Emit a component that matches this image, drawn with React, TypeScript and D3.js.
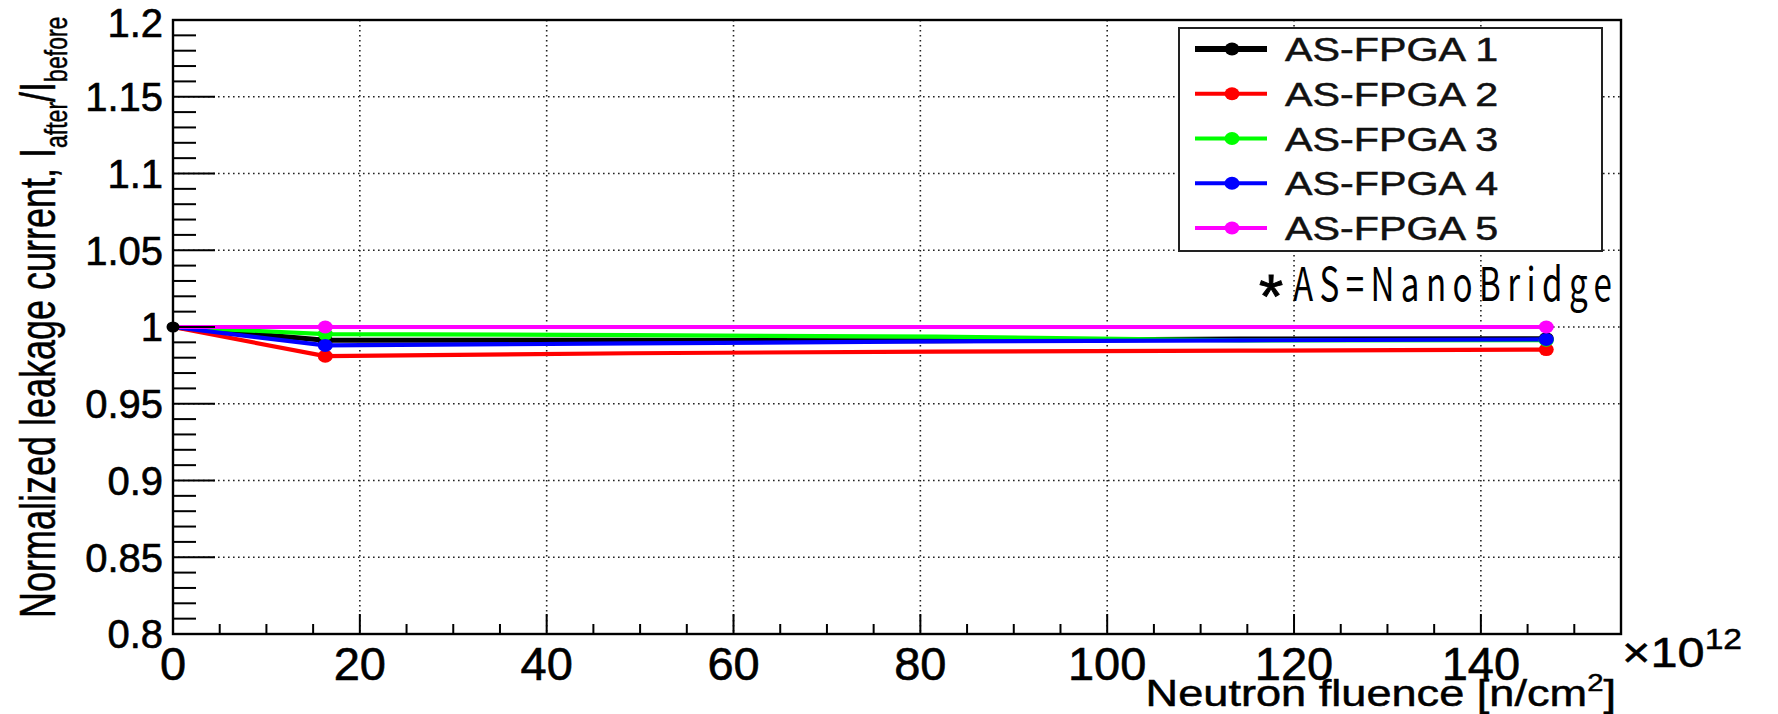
import React from 'react';
import * as d3 from 'd3';

// fluence in units of 1e12 n/cm^2
const fluence = [0, 16.3, 49, 81.7, 114.3, 147];
const fpga1 = [1, 0.9913, 0.9914, 0.9911, 0.9922, 0.9924];
const fpga2 = [1, 0.981, 0.9829, 0.984, 0.9846, 0.9853];
const fpga3 = [1, 0.9954, 0.9947, 0.9937, 0.9913, 0.9914];
const fpga4 = [1, 0.988, 0.9893, 0.9906, 0.9913, 0.9919];
const fpga5 = [1, 1, 1, 1, 1, 1];
const seriesNames = ['AS-FPGA 1', 'AS-FPGA 2', 'AS-FPGA 3', 'AS-FPGA 4', 'AS-FPGA 5'];
const seriesColors = ['#000000', '#ff0000', '#00ff00', '#0000ff', '#ff00ff'];
const markedPoints = [1, 5];
const xTicks = [0, 20, 40, 60, 80, 100, 120, 140];
const yTicks = [0.8, 0.85, 0.9, 0.95, 1, 1.05, 1.1, 1.15, 1.2];
const yTickLabels = ['0.8', '0.85', '0.9', '0.95', '1', '1.05', '1.1', '1.15', '1.2'];

const series = [fpga1, fpga2, fpga3, fpga4, fpga5];

const font = '"Liberation Sans", Arial, Helvetica, sans-serif';

const App = () => {
  const x = d3.scaleLinear().domain([0, 155]).range([173, 1621]);
  const y = d3.scaleLinear().domain([0.8, 1.2]).range([634, 20]);

  const line = d3
    .line<number>()
    .x((_, i) => x(fluence[i]))
    .y((d) => y(d));

  const xMinor = d3.range(0, 155.01, 5);
  const yMinor = d3.range(0, 41).map((i) => 0.8 + i * 0.01);

  const legendRow = (i: number) => 49 + i * 44.75;

  return (
    <div style={{ position: 'fixed', left: 0, top: 0 }}>
      <svg width={1778} height={714} style={{ display: 'block', background: '#fff' }}>
        {/* grid */}
        {xTicks.slice(1).map((t) => (
          <line key={'gx' + t} x1={x(t)} x2={x(t)} y1={y(1.2)} y2={y(0.8)}
            stroke="#222" strokeWidth={1.6} strokeDasharray="1.6,3.4" />
        ))}
        {yTicks.slice(1, -1).map((t) => (
          <line key={'gy' + t} x1={x(0)} x2={x(155)} y1={y(t)} y2={y(t)}
            stroke="#222" strokeWidth={1.6} strokeDasharray="1.6,3.4" />
        ))}

        {/* data lines */}
        {series.map((s, k) => (
          <path key={'l' + k} d={line(s) || ''} fill="none" stroke={seriesColors[k]}
            strokeWidth={k === 0 ? 5 : 4.2} strokeLinejoin="round" />
        ))}
        {series.map((s, k) =>
          markedPoints.map((i) => (
            <ellipse key={'m' + k + '-' + i} cx={x(fluence[i])} cy={y(s[i])} rx={7.5} ry={6.5}
              fill={seriesColors[k]} />
          ))
        )}
        <ellipse cx={x(fluence[0])} cy={y(fpga1[0])} rx={6.5} ry={5.5} fill={seriesColors[0]} />

        {/* frame */}
        <rect x={x(0)} y={y(1.2)} width={x(155) - x(0)} height={y(0.8) - y(1.2)}
          fill="none" stroke="#000" strokeWidth={2.4} />

        {/* y ticks */}
        {yMinor.map((t, i) => (
          <line key={'yt' + i} x1={x(0)} x2={x(0) + (i % 5 === 0 ? 42 : 23)} y1={y(t)} y2={y(t)}
            stroke="#000" strokeWidth={2} />
        ))}
        {/* x ticks */}
        {xMinor.map((t, i) => (
          <line key={'xt' + i} x1={x(t)} x2={x(t)} y1={y(0.8)} y2={y(0.8) - (i % 4 === 0 ? 20 : 10)}
            stroke="#000" strokeWidth={2} />
        ))}

        {/* tick labels */}
        {yTicks.map((t, i) => (
          <text key={'yl' + i} x={163} y={Math.max(y(t), 23)} dy="0.36em" textAnchor="end"
            fontFamily={font} fontSize={40} fill="#000" stroke="#000" strokeWidth={0.6}>{yTickLabels[i]}</text>
        ))}
        {xTicks.map((t) => (
          <text key={'xl' + t} x={x(t)} y={680} textAnchor="middle"
            fontFamily={font} fontSize={47} fill="#000" stroke="#000" strokeWidth={0.6}>{t}</text>
        ))}

        {/* exponent */}
        <g transform="translate(1622,667) scale(1.16,1)">
          <text x={0} y={0} fontFamily={font} fontSize={42} fill="#000" stroke="#000" strokeWidth={0.5}>
            ×10<tspan fontSize={29} dy={-18}>12</tspan>
          </text>
        </g>

        {/* axis titles */}
        <g transform="translate(1616,706) scale(1.22,1)">
          <text x={0} y={0} textAnchor="end" fontFamily={font} fontSize={37} fill="#000" stroke="#000" strokeWidth={0.5}>
            Neutron fluence [n/cm<tspan fontSize={24} dy={-15}>2</tspan><tspan dy={15}>]</tspan>
          </text>
        </g>
        <g transform="translate(55,618) rotate(-90) scale(0.72,1)">
          <text x={0} y={0} fontFamily={font} fontSize={50} fill="#000" stroke="#000" strokeWidth={0.5}>
            Normalized leakage current, I<tspan fontSize={32} dy={12}>after</tspan>
            <tspan dy={-12}>/I</tspan><tspan fontSize={32} dy={12}>before</tspan>
          </text>
        </g>

        {/* legend */}
        <rect x={1179} y={28} width={423} height={223} fill="#fff" stroke="#222" strokeWidth={2} />
        {seriesNames.map((name, i) => (
          <g key={'lg' + i}>
            <line x1={1195} x2={1267} y1={legendRow(i)} y2={legendRow(i)} stroke={seriesColors[i]}
              strokeWidth={i === 0 ? 6 : 4} />
            <ellipse cx={1232} cy={legendRow(i)} rx={7.5} ry={6.5} fill={seriesColors[i]} />
            <g transform={`translate(1285,${legendRow(i) + 12}) scale(1.25,1)`}>
              <text x={0} y={0} fontFamily={font} fontSize={33} fill="#111" stroke="#111" strokeWidth={0.5}>{name}</text>
            </g>
          </g>
        ))}

        {/* note */}
        <text x={1259} y={317} fontFamily={font} fontSize={62} fill="#000" stroke="#000" strokeWidth={1}>*</text>
        <g transform="translate(1293,301) scale(0.72,1)">
          <text x={0} y={0} fontFamily='"Noto Sans CJK JP", "Noto Sans", sans-serif' fontSize={46}
            textLength={443} lengthAdjust="spacing" fill="#000">AS=NanoBridge</text>
        </g>
      </svg>
    </div>
  );
};

export default App;
